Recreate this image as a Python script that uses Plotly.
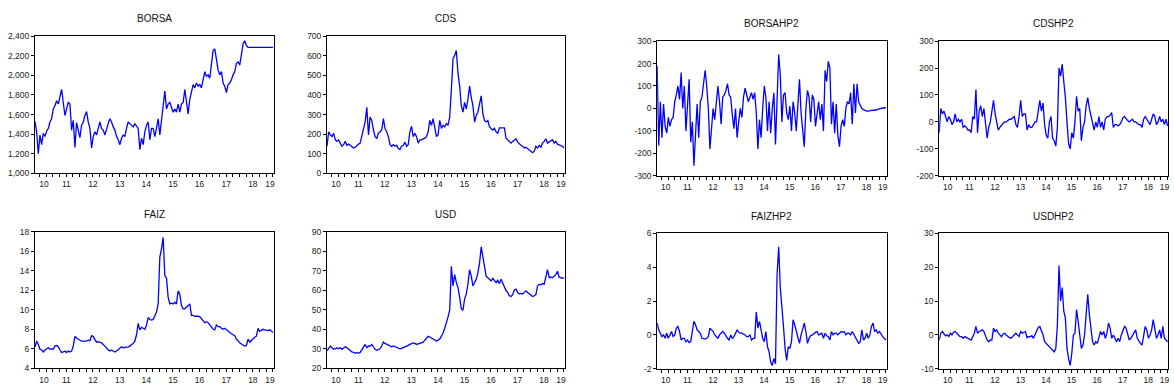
import plotly.graph_objects as go

W, H = 1174, 392

# observation calendar: fractional years, one observation every 1/16 year
T_START, T_END = 2010.325, 2019.29
time = [T_START + k / 16 for k in range(144)]

borsa = [1531, 1424, 1199, 1391, 1292, 1408, 1375, 1431, 1458, 1524,
         1557, 1657, 1690, 1740, 1707, 1773, 1856, 1723, 1590, 1657,
         1723, 1707, 1441, 1540, 1265, 1517, 1424, 1365, 1491, 1524,
         1590, 1630, 1524, 1458, 1259, 1375, 1424, 1391, 1458, 1524,
         1458, 1441, 1391, 1458, 1507, 1557, 1524, 1474, 1441, 1375,
         1342, 1292, 1358, 1391, 1375, 1458, 1524, 1507, 1491, 1474,
         1507, 1484, 1458, 1242, 1358, 1292, 1424, 1491, 1524, 1342,
         1458, 1458, 1375, 1458, 1557, 1391, 1540, 1657, 1839, 1657,
         1707, 1723, 1663, 1624, 1657, 1624, 1707, 1624, 1707, 1723,
         1856, 1707, 1607, 1756, 1823, 1906, 1872, 1922, 1889, 1906,
         1872, 1955, 2038, 1989, 2005, 1972, 2105, 2254, 2270, 2171,
         2055, 2005, 2038, 1922, 1889, 1823, 1906, 1922, 1955, 2005,
         2038, 2121, 2138, 2105, 2237, 2320, 2354, 2304, 2287, 2285,
         2285, 2285, 2285, 2285, 2285, 2285, 2285, 2285, 2285, 2285,
         2285, 2285, 2285, 2285]

cds = [138, 212, 196, 187, 204, 171, 163, 171, 154, 138,
       146, 163, 143, 149, 143, 138, 129, 133, 143, 149,
       154, 196, 221, 262, 337, 196, 287, 270, 221, 187,
       179, 204, 212, 221, 279, 229, 212, 187, 146, 138,
       146, 138, 143, 126, 121, 138, 143, 159, 138, 146,
       212, 240, 187, 204, 187, 154, 171, 171, 176, 179,
       187, 212, 270, 245, 279, 229, 187, 196, 270, 229,
       245, 237, 254, 245, 287, 428, 585, 602, 627, 511,
       445, 345, 312, 362, 328, 378, 445, 387, 345, 262,
       295, 312, 362, 395, 304, 270, 262, 270, 237, 229,
       221, 229, 212, 204, 232, 232, 232, 232, 179, 171,
       163, 154, 163, 171, 176, 159, 149, 143, 138, 129,
       133, 126, 116, 113, 105, 113, 138, 129, 143, 133,
       154, 163, 176, 154, 159, 163, 171, 154, 163, 149,
       146, 143, 138, 129]

faiz = [6.2, 6.8, 6.46, 5.96, 5.89, 5.69, 5.89, 6.02, 6.12, 5.96,
        6.02, 5.96, 6.29, 6.36, 6.22, 5.89, 5.63, 5.69, 5.79, 5.63,
        5.79, 5.69, 5.79, 6.29, 7.28, 7.12, 7.02, 6.95, 6.79, 6.79,
        6.79, 6.79, 6.89, 6.85, 7.35, 7.28, 6.95, 6.69, 6.75, 6.72,
        6.62, 6.46, 6.29, 6.02, 5.89, 5.79, 5.89, 5.79, 5.69, 5.79,
        5.96, 6.12, 6.22, 6.12, 6.12, 6.19, 6.22, 6.29, 6.46, 6.55,
        6.79, 7.45, 8.61, 7.95, 8.21, 8.11, 8.01, 8.45, 9.21, 9.01,
        8.94, 9.01, 9.44, 9.77, 10.6, 15.4, 16.24, 17.4, 13.5, 13.25,
        11.27, 10.6, 10.67, 10.6, 10.77, 10.6, 11.93, 11.6, 10.44, 10.1,
        10.1, 10.27, 10.44, 10.6, 9.44, 9.44, 9.34, 9.37, 9.34, 9.28,
        9.11, 8.94, 8.68, 8.78, 8.68, 8.45, 8.21, 8.01, 7.95, 8.45,
        8.28, 8.28, 8.11, 8.01, 8.11, 7.95, 7.88, 7.68, 7.55, 7.45,
        7.35, 7.02, 6.79, 6.62, 6.5, 6.35, 6.3, 6.35, 7.0, 6.7,
        6.9, 7.1, 7.2, 7.3, 8.1, 7.8, 7.95, 8.01, 7.95, 7.88,
        7.88, 7.95, 7.78, 7.68]

usd = [29.0, 30.6, 31.5, 30.6, 29.8, 30.1, 30.6, 30.1, 30.6, 29.8,
       30.6, 31.1, 30.6, 29.8, 29.0, 28.5, 28.2, 27.8, 28.2, 27.8,
       28.2, 29.5, 30.6, 32.3, 30.6, 31.5, 31.5, 32.3, 31.1, 29.8,
       29.3, 29.5, 30.1, 31.5, 33.5, 32.8, 32.3, 31.8, 31.5, 31.1,
       31.5, 31.1, 30.6, 30.6, 30.1, 30.3, 30.6, 31.1, 31.5, 31.8,
       32.3, 32.8, 33.1, 32.8, 32.3, 32.6, 32.8, 33.1, 33.5, 34.5,
       35.6, 36.5, 36.1, 35.6, 35.1, 34.8, 34.0, 34.5, 35.1, 36.5,
       38.1, 40.6, 43.1, 46.4, 49.8, 72.2, 62.2, 68.0, 63.9, 61.4,
       56.4, 50.6, 49.8, 55.6, 58.1, 63.1, 70.5, 67.2, 62.2, 63.9,
       65.6, 68.9, 73.9, 82.2, 76.4, 70.5, 67.2, 66.4, 65.6, 64.7,
       66.1, 64.7, 63.9, 65.1, 63.4, 65.6, 63.9, 61.4, 59.7, 58.9,
       57.2, 56.8, 57.8, 60.1, 60.6, 58.9, 58.1, 58.4, 58.1, 58.9,
       59.7, 58.9, 58.1, 57.2, 56.8, 57.2, 57.8, 62.2, 63.1, 62.7,
       63.4, 63.1, 67.2, 70.5, 66.4, 66.7, 66.4, 67.2, 68.0, 69.7,
       66.7, 66.4, 66.1, 66.4]

borsahp2 = [190, -165, 30, -130, 20, -80, -110, -40, -80, -50,
            -40, 30, 60, 100, 40, 160, 0, 100, -100, 30,
            130, -150, -60, -255, -100, 20, -130, 30, 50, 100,
            170, 100, 0, -180, -80, 0, -50, 30, 100, 30,
            -70, 50, 60, 80, 110, 60, 50, -30, -90, 0,
            -130, -60, 0, -40, 50, 90, 60, 30, 50, 70,
            40, 70, -20, -180, -50, -130, 0, 100, 50, -100,
            30, -110, 0, 70, -160, 90, 240, 150, -60, 60,
            70, -20, -50, 10, -100, 30, -20, -100, 40, 130,
            -20, -100, -170, 0, 80, 50, -60, 60, 40, -80,
            -30, 30, -50, 20, -100, 170, 120, 210, 180, -70,
            30, -110, 20, -120, -170, -80, -50, -80, 0, 30,
            20, 70, -70, 110, -20, 110, 30, 15, 0, -5,
            -10, -12, -12, -10, -10, -8, -8, -5, -3, -2,
            0, 2, 3, 2]

cdshp2 = [-40, 50, 30, 40, 20, 0, 20, 10, -10, 0,
          30, 0, 10, 0, 10, -20, -15, -20, -30, -30,
          -40, 20, 10, 120, -40, 40, 60, 20, 50, -20,
          -60, -20, 0, 40, 80, 30, 0, -30, -20, -10,
          -5, 0, 0, 5, 10, 10, 15, 20, -10, -20,
          20, 80, 20, 30, 30, -30, -10, -20, -20, -10,
          0, 0, 40, 80, 40, 70, -10, -50, -60, 0,
          20, -60, -70, -90, -20, 200, 170, 215, 150, 90,
          0, -80, -100, -40, -60, 0, 95, 40, 50, -70,
          -20, 0, 60, 90, 50, 20, 0, -30, 0, -20,
          20, -20, 0, -30, 10, 20, 20, 25, 35, -20,
          -10, -10, -15, -10, 0, 15, 20, 10, 5, 0,
          5, 10, 0, 0, -5, -10, -10, -20, 10, 20,
          10, 0, -10, 10, 30, 20, -10, 0, 20, 0,
          10, -10, 10, -15]

faizhp2 = [0.7, 0.3, 0.1, -0.1, 0.0, -0.2, 0.1, -0.2, 0.0, 0.2,
           -0.1, 0.0, 0.4, 0.5, 0.2, -0.3, -0.2, -0.2, -0.4, -0.3,
           -0.45, -0.4, 0.2, 0.8, 0.6, 0.3, 0.2, 0.1, -0.2, -0.25,
           -0.25, -0.2, -0.1, 0.4, 0.3, 0.2, 0.0, -0.1, -0.2, 0.0,
           0.1, 0.2, 0.1, -0.1, -0.2, -0.3, 0.0, -0.2, -0.1, 0.1,
           0.3, 0.15, 0.1, 0.1, 0.05, 0.0, -0.1, -0.1, 0.0, -0.3,
           -0.2, -0.2, 1.35, 0.4, 0.8, 0.3, -0.2, -0.4, 0.2, -0.7,
           -1.0, -1.6, -1.8, -1.4, -1.7, 3.6, 5.2, 2.8, 1.8, 0.5,
           -0.8, -1.5, -0.7, -0.8, -0.4, 0.9, 0.6, 0.2, -0.2, -0.5,
           0.0, 0.3, 0.7, 0.2, -0.5, -0.2, -0.05, 0.0, 0.1, 0.15,
           0.2, 0.0, 0.05, 0.1, -0.2, 0.1, -0.05, -0.1, -0.3, 0.2,
           0.0, 0.1, 0.1, 0.0, 0.1, 0.2, 0.15, 0.2, 0.0, 0.1,
           0.1, 0.0, 0.2, 0.0, -0.1, -0.3, -0.5, -0.4, 0.3, -0.3,
           -0.2, 0.1, -0.2, 0.0, 0.5, 0.7, 0.2, 0.3, 0.1, 0.2,
           0.0, -0.1, -0.2, -0.3]

usdhp2 = [-1.5, 0.5, 1.0, 0.3, -0.3, 0.0, -0.5, 0.5, 0.0, 0.8,
          1.0, 0.5, 0.0, -0.5, -0.5, -1.0, -0.5, -0.8, -1.0, -1.2,
          -1.5, -0.5, 0.5, 2.5, 0.5, 1.0, 1.2, 1.5, 1.0, -0.5,
          -1.5, -2.0, -1.5, -1.5, 2.0, 1.0, 1.5, 0.5, 0.0, -0.5,
          0.3, 0.5, 0.0, -0.5, -0.8, -1.0, -0.5, 0.0, 0.5, 0.0,
          -0.5, 1.0, 0.5, 0.8, 1.0, -0.8, -0.5, -0.5, -0.2, -1.0,
          0.0, 1.5, 2.2, 2.5, 1.5, 0.0, -2.0, -2.5, -3.0, -3.5,
          -4.0, -4.5, -5.0, -4.0, 3.0, 20.5, 10.0, 14.0, 7.0, 5.0,
          -4.0, -7.0, -9.0, -5.5, 0.0, 0.5, 7.5, 4.0, 0.0, -4.0,
          -3.0, 0.0, 6.0, 12.0, 6.0, 1.0, -2.0, -3.0, -2.0, -2.5,
          -1.0, 1.0, 0.0, 1.0, -1.0, 0.5, 3.5, 2.0, -1.0, 0.0,
          -1.0, -2.0, -1.0, -2.0, 0.0, 1.5, 2.5, 2.0, 0.0, -1.5,
          -1.0, 0.0, 1.0, 1.5, -1.0, -2.0, -2.5, -3.0, 0.5, 2.5,
          1.5, -1.0, 0.0, 1.5, 4.5, 2.0, -1.0, 0.0, 1.5, -1.0,
          2.5, -1.0, -1.5, -2.0]

year_text = ["10", "11", "12", "13", "14", "15", "16", "17", "18", "19"]
year_pos = [2010.66, 2011.505, 2012.505, 2013.505, 2014.505, 2015.505,
            2016.505, 2017.505, 2018.505, 2019.145]
quarter_pos = [2010.5 + 0.25 * q for q in range(36)]

def ticks(lo, hi, step, comma=False):
    vals = list(range(lo, hi + 1, step))
    txt = [(f"{v:,}" if comma else str(v)) for v in vals]
    return vals, txt

# name, values, x pixel span, y pixel span, y range, y ticks, title y pixel
panels = [
    ("BORSA", borsa, (35, 274), (32, 172.7), (1000, 2400), ticks(1000, 2400, 200, True), 14),
    ("CDS", cds, (327.3, 565.3), (32, 172.7), (0, 700), ticks(0, 700, 100), 14),
    ("FAIZ", faiz, (35, 274), (232.5, 373), (4, 18), ticks(4, 18, 2), 215),
    ("USD", usd, (327.3, 565.3), (232.5, 373), (20, 90), ticks(20, 90, 10), 215),
    ("BORSAHP2", borsahp2, (657.7, 887.3), (37, 175.3), (-300, 300), ticks(-300, 300, 100), 19),
    ("CDSHP2", cdshp2, (940, 1169.3), (37, 175.3), (-200, 300), ticks(-200, 300, 100), 19),
    ("FAIZHP2", faizhp2, (657.7, 887.3), (234.3, 373.3), (-2, 6), ticks(-2, 6, 2), 217),
    ("USDHP2", usdhp2, (940, 1169.3), (234.3, 373.3), (-10, 30), ticks(-10, 30, 10), 217),
]

FONT = "Liberation Sans, Arial, sans-serif"
fig = go.Figure()
annotations = []
layout = {}
for i, (name, vals, xs, ys, yr, (tv, tt), ty) in enumerate(panels):
    n = "" if i == 0 else str(i + 1)
    fig.add_trace(go.Scatter(x=time, y=vals, mode="lines",
                             line=dict(color="#0000FF", width=1.3),
                             xaxis="x" + n, yaxis="y" + n,
                             showlegend=False, hoverinfo="skip"))
    xd = [xs[0] / W, xs[1] / W]
    yd = [1 - ys[1] / H, 1 - ys[0] / H]
    layout["xaxis" + n] = dict(
        domain=xd, anchor="y" + n, range=[T_START, T_END],
        tickmode="array", tickvals=year_pos, ticktext=year_text,
        ticks="inside", ticklen=0,
        minor=dict(tickmode="array", tickvals=quarter_pos, ticks="outside",
                   ticklen=3, tickwidth=1, tickcolor="#000"),
        showline=True, mirror=True, linecolor="#000", linewidth=1,
        showgrid=False, zeroline=False, ticklabelstandoff=3,
        tickfont=dict(family=FONT, size=8.5, color="#222"))
    layout["yaxis" + n] = dict(
        domain=yd, anchor="x" + n, range=list(yr),
        tickmode="array", tickvals=tv, ticktext=tt,
        ticks="outside", ticklen=3, tickwidth=1, tickcolor="#000",
        showline=True, mirror=True, linecolor="#000", linewidth=1,
        showgrid=False, zeroline=False,
        tickfont=dict(family=FONT, size=8.5, color="#222"))
    annotations.append(dict(text=name, xref="paper", yref="paper",
                            x=(xd[0] + xd[1]) / 2, y=1 - ty / H,
                            xanchor="center", yanchor="middle", showarrow=False,
                            font=dict(family=FONT, size=10, color="#111")))

fig.update_layout(width=W, height=H, margin=dict(l=0, r=0, t=0, b=0),
                  paper_bgcolor="white", plot_bgcolor="white",
                  annotations=annotations, **layout)
fig.write_html("out.html", config={"displayModeBar": False},
               post_script="document.body.style.margin='0';document.body.style.overflow='hidden';")
